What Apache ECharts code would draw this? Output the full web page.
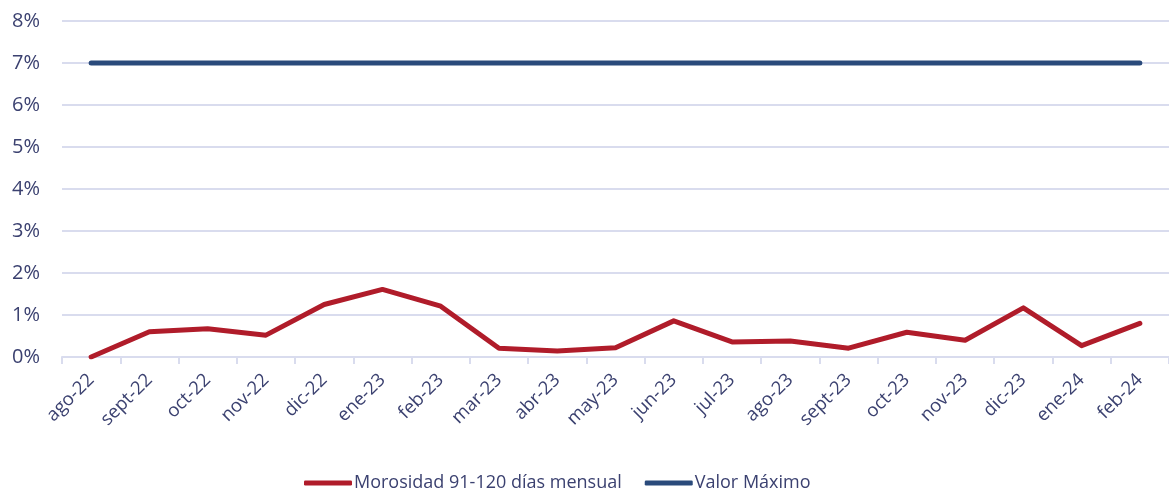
<!DOCTYPE html>
<html>
<head>
<meta charset="utf-8">
<script src="https://cdn.jsdelivr.net/npm/echarts@6/dist/echarts.min.js"></script>
<style>
  html, body { margin: 0; padding: 0; background: #fff; }
  #chart { width: 1169px; height: 496px; }
</style>
</head>
<body>
<div id="chart"></div>
<script>
// months shown on the x axis
const categories = [
  "ago-22", "sept-22", "oct-22", "nov-22", "dic-22", "ene-23", "feb-23",
  "mar-23", "abr-23", "may-23", "jun-23", "jul-23", "ago-23", "sept-23",
  "oct-23", "nov-23", "dic-23", "ene-24", "feb-24"
];
// values in %
const morosidad = [0, 0.6, 0.67, 0.52, 1.25, 1.61, 1.21, 0.21, 0.14, 0.22,
  0.86, 0.36, 0.38, 0.21, 0.59, 0.4, 1.17, 0.27, 0.8];
const valorMaximo = [7, 7, 7, 7, 7, 7, 7, 7, 7, 7, 7, 7, 7, 7, 7, 7, 7, 7, 7];

const textColor = "#3b4170";
const gridColor = "#d9dcee";
const font = "'Open Sans', 'Noto Sans', sans-serif";

const chart = echarts.init(document.getElementById("chart"));
const option = {
  backgroundColor: "#ffffff",
  animation: false,
  textStyle: { fontFamily: font },
  grid: {
    left: 62,
    right: 0,
    top: 21,
    bottom: 139
  },
  legend: {
    top: 474,
    left: 304,
    padding: 0,
    itemWidth: 48,
    itemHeight: 5,
    itemGap: 23,
    icon: "roundRect",
    textStyle: { color: textColor, fontSize: 18, fontFamily: font, padding: [0, 0, 0, -3] },
    data: ["Morosidad 91-120 días mensual", "Valor Máximo"]
  },
  xAxis: {
    type: "category",
    boundaryGap: true,
    data: categories,
    axisLine: { show: true, lineStyle: { color: gridColor, width: 2 } },
    axisTick: { show: true, length: 7, lineStyle: { color: gridColor, width: 2 } },
    axisLabel: {
      rotate: 45,
      color: textColor,
      fontSize: 18.5,
      margin: 20,
      interval: 0
    }
  },
  yAxis: {
    type: "value",
    min: 0,
    max: 8,
    interval: 1,
    axisLine: { show: false },
    axisTick: { show: false },
    splitLine: { lineStyle: { color: gridColor, width: 2 } },
    axisLabel: {
      formatter: "{value}%",
      color: textColor,
      fontSize: 20,
      margin: 22
    }
  },
  series: [
    {
      name: "Morosidad 91-120 días mensual",
      type: "line",
      data: morosidad,
      color: "#b01c2a",
      symbol: "none",
      lineStyle: { width: 5, cap: "round", join: "round" }
    },
    {
      name: "Valor Máximo",
      type: "line",
      data: valorMaximo,
      color: "#2a4a7b",
      symbol: "none",
      lineStyle: { width: 5, cap: "round" }
    }
  ]
};
chart.setOption(option);
</script>
</body>
</html>
